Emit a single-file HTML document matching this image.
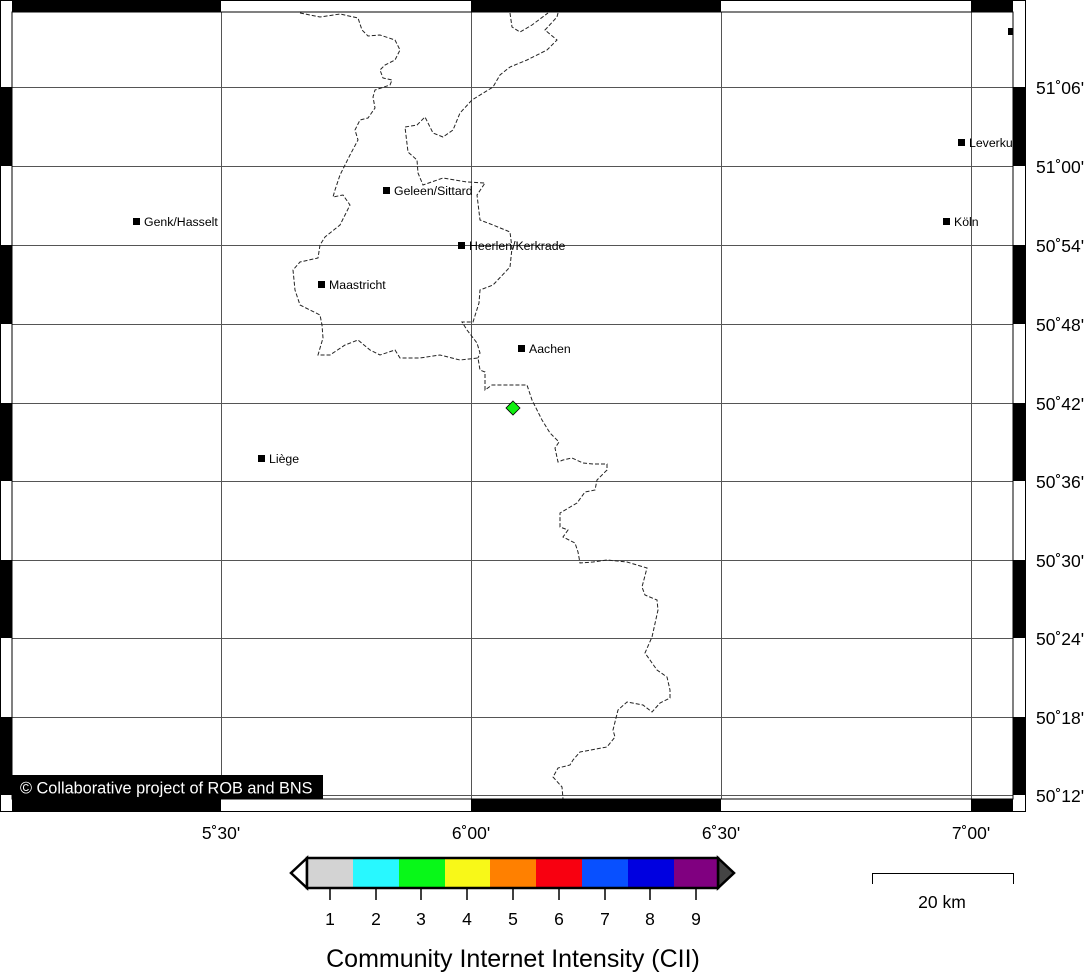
<!DOCTYPE html>
<html><head><meta charset="utf-8"><style>
html,body{margin:0;padding:0;background:#fff;}
svg{display:block;font-family:"Liberation Sans",sans-serif;}
</style></head><body>
<svg width="1088" height="973" viewBox="0 0 1088 973" xmlns="http://www.w3.org/2000/svg">
<rect width="1088" height="973" fill="#fff"/>
<g stroke="#555" stroke-width="1">
<line x1="221.5" y1="12" x2="221.5" y2="799"/>
<line x1="471.5" y1="12" x2="471.5" y2="799"/>
<line x1="721.5" y1="12" x2="721.5" y2="799"/>
<line x1="971.5" y1="12" x2="971.5" y2="799"/>
<line x1="12" y1="87.5" x2="1013" y2="87.5"/>
<line x1="12" y1="166.5" x2="1013" y2="166.5"/>
<line x1="12" y1="245.5" x2="1013" y2="245.5"/>
<line x1="12" y1="324.5" x2="1013" y2="324.5"/>
<line x1="12" y1="403.5" x2="1013" y2="403.5"/>
<line x1="12" y1="481.5" x2="1013" y2="481.5"/>
<line x1="12" y1="560.5" x2="1013" y2="560.5"/>
<line x1="12" y1="638.5" x2="1013" y2="638.5"/>
<line x1="12" y1="717.5" x2="1013" y2="717.5"/>
<line x1="12" y1="795.5" x2="1013" y2="795.5"/>
</g>
<g fill="none" stroke="#222" stroke-width="1" stroke-dasharray="4,2">
<polyline points="300,13 320,17 340,14 358,18 362,30 368,36 380,35 395,40 400,50 395,60 385,65 380,70 383,78 392,80 390,85 375,90 373,97 375,108 368,118 360,120 355,130 358,140 350,155 340,175 335,190 333,197 343,195 350,205 340,225 325,237 320,245 318,258 300,262 293,270 295,290 300,305 320,315 322,325 323,338 318,355 330,355 345,345 358,340 370,350 380,355 395,350 400,358 420,358 440,355 460,360 478,358 480,370 485,372 485,390 492,385 520,385 527,385 532,400 542,420 550,433 559,442 555,448 558,462 563,460 572,458 583,463 593,464 607,464 607,470 597,480 595,490 585,492 577,503 560,513 560,527 568,530 563,537 575,543 578,552 580,563 593,562 607,560 627,562 647,568 642,587 645,595 657,600 658,610 652,637 645,653 657,670 667,677 670,690 670,698 660,703 652,712 643,705 627,702 618,710 613,730 615,737 607,747 580,752 573,760 570,765 558,768 553,777 562,787 563,799"/>
<polyline points="558,13 557,17 545,30 557,40 547,50 527,60 510,67 500,75 493,87 472,100 460,113 453,130 443,137 433,133 425,117 417,125 405,127 408,152 417,160 418,173 423,185 443,178 467,182 485,183 477,195 480,220 493,225 510,232 512,248 510,267 493,285 480,290 479,303 473,322 462,322 467,330 477,343 480,353 478,358"/>
<polyline points="510,13 512,27 520,32 532,25 548,13"/>
</g>
<g fill="#000" font-size="12.3">
<rect x="133" y="218" width="7" height="7"/><text x="144" y="226">Genk/Hasselt</text>
<rect x="383" y="187" width="7" height="7"/><text x="394" y="195">Geleen/Sittard</text>
<rect x="458" y="242" width="7" height="7"/><text x="469" y="250">Heerlen/Kerkrade</text>
<rect x="318" y="281" width="7" height="7"/><text x="329" y="289">Maastricht</text>
<rect x="518" y="345" width="7" height="7"/><text x="529" y="353">Aachen</text>
<rect x="258" y="455" width="7" height="7"/><text x="269" y="463">Liège</text>
<rect x="943" y="218" width="7" height="7"/><text x="954" y="226">Köln</text>
<rect x="958" y="139" width="7" height="7"/><text x="969" y="147">Leverkusen</text>
<rect x="1008" y="28" width="5" height="7"/>
</g>
<polygon points="513,401 520,408 513,415 506,408" fill="#10f010" stroke="#000" stroke-width="0.8"/>
<rect x="1013" y="0" width="75" height="812" fill="#fff"/>
<rect x="12" y="775" width="311" height="24" fill="#000"/>
<text x="20" y="793.5" fill="#fff" font-size="16.3">© Collaborative project of ROB and BNS</text>
<g fill="#000">
<rect x="12" y="1" width="209" height="11"/><rect x="471" y="1" width="250" height="11"/><rect x="971" y="1" width="42" height="11"/>
<rect x="12" y="799" width="209" height="12"/><rect x="471" y="799" width="250" height="12"/><rect x="971" y="799" width="42" height="12"/>
<rect x="1" y="87" width="11" height="79"/><rect x="1" y="245" width="11" height="79"/><rect x="1" y="403" width="11" height="78"/><rect x="1" y="560" width="11" height="78"/><rect x="1" y="717" width="11" height="78"/>
<rect x="1013" y="87" width="12" height="79"/><rect x="1013" y="245" width="12" height="79"/><rect x="1013" y="403" width="12" height="78"/><rect x="1013" y="560" width="12" height="78"/><rect x="1013" y="717" width="12" height="78"/>
</g>
<g fill="none" stroke="#000" stroke-width="1">
<rect x="0.5" y="0.5" width="1025" height="811"/>
<rect x="12" y="12" width="1001" height="787"/>
</g>
<g font-size="17.5" fill="#000">
<text x="1036" y="94">51˚06'</text>
<text x="1036" y="173">51˚00'</text>
<text x="1036" y="252">50˚54'</text>
<text x="1036" y="331">50˚48'</text>
<text x="1036" y="410">50˚42'</text>
<text x="1036" y="488">50˚36'</text>
<text x="1036" y="567">50˚30'</text>
<text x="1036" y="645">50˚24'</text>
<text x="1036" y="724">50˚18'</text>
<text x="1036" y="802">50˚12'</text>
</g>
<g font-size="17.5" fill="#000" text-anchor="middle">
<text x="221" y="839">5˚30'</text>
<text x="471" y="839">6˚00'</text>
<text x="721" y="839">6˚30'</text>
<text x="971" y="839">7˚00'</text>
</g>
<polygon points="307,858 291,873 307,888" fill="#fff" stroke="#000" stroke-width="2.5"/>
<polygon points="718,858 734,873 718,888" fill="#444" stroke="#000" stroke-width="2.5"/>
<g>
<rect x="307" y="858" width="46" height="30" fill="#d3d3d3"/>
<rect x="353" y="858" width="46" height="30" fill="#28f8ff"/>
<rect x="399" y="858" width="46" height="30" fill="#08f818"/>
<rect x="445" y="858" width="45" height="30" fill="#f8f818"/>
<rect x="490" y="858" width="46" height="30" fill="#ff8000"/>
<rect x="536" y="858" width="46" height="30" fill="#f80010"/>
<rect x="582" y="858" width="46" height="30" fill="#0850ff"/>
<rect x="628" y="858" width="46" height="30" fill="#0000e0"/>
<rect x="674" y="858" width="44" height="30" fill="#800080"/>
</g>
<rect x="307" y="858" width="411" height="30" fill="none" stroke="#000" stroke-width="2.5"/>
<g stroke="#000" stroke-width="1.5">
<line x1="330" y1="889" x2="330" y2="900"/><line x1="376" y1="889" x2="376" y2="900"/><line x1="421" y1="889" x2="421" y2="900"/><line x1="467" y1="889" x2="467" y2="900"/><line x1="513" y1="889" x2="513" y2="900"/><line x1="559" y1="889" x2="559" y2="900"/><line x1="605" y1="889" x2="605" y2="900"/><line x1="650" y1="889" x2="650" y2="900"/><line x1="696" y1="889" x2="696" y2="900"/>
</g>
<g font-size="17.5" text-anchor="middle" fill="#000">
<text x="330" y="925">1</text><text x="376" y="925">2</text><text x="421" y="925">3</text><text x="467" y="925">4</text><text x="513" y="925">5</text><text x="559" y="925">6</text><text x="605" y="925">7</text><text x="650" y="925">8</text><text x="696" y="925">9</text>
</g>
<text x="513" y="967" font-size="25" text-anchor="middle" fill="#000">Community Internet Intensity (CII)</text>
<polyline points="872.5,884 872.5,873.5 1013.5,873.5 1013.5,884" fill="none" stroke="#000" stroke-width="1"/>
<text x="942" y="908" font-size="17.5" text-anchor="middle" fill="#000">20 km</text>
</svg>
</body></html>
